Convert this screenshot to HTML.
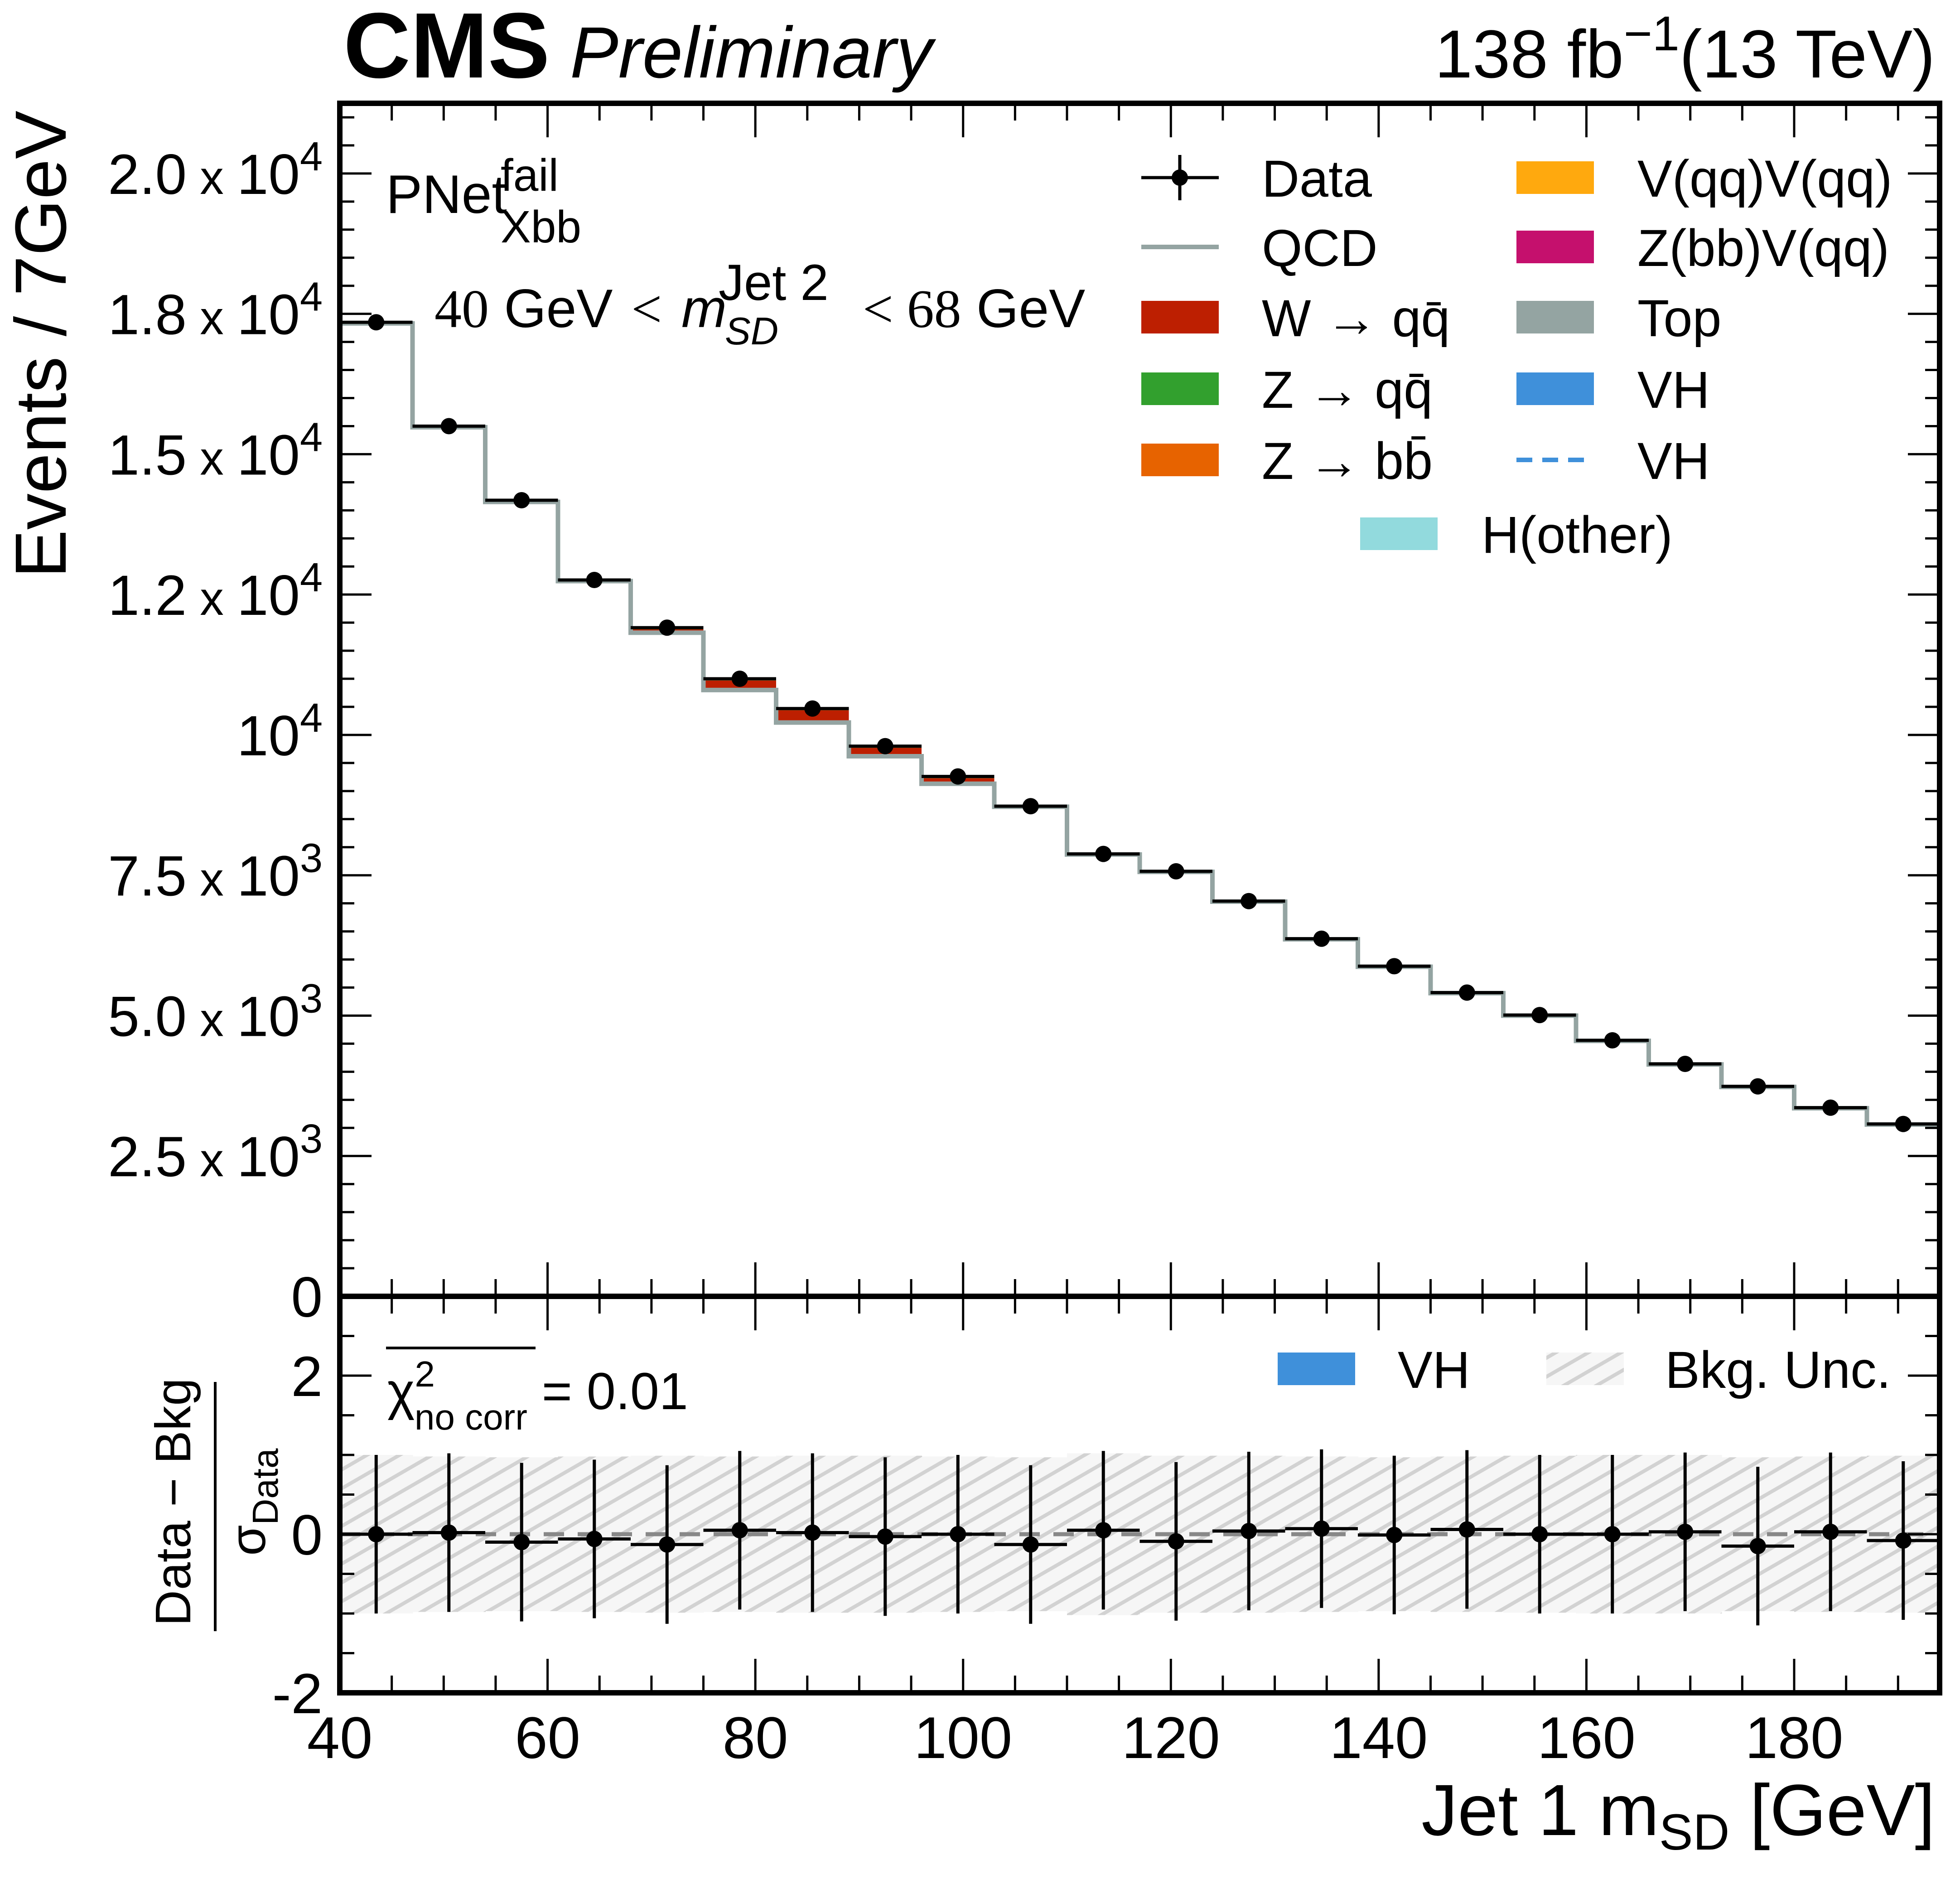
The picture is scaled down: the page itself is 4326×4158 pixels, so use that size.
<!DOCTYPE html>
<html><head><meta charset="utf-8"><style>
html,body{margin:0;padding:0;background:#fff}
svg{display:block}
text{font-family:"Liberation Sans",sans-serif;fill:#000}
</style></head><body>
<svg id="chart" xmlns="http://www.w3.org/2000/svg" width="4326" height="4158" viewBox="0 0 4326 4158">
<defs>
<pattern id="hatch" patternUnits="userSpaceOnUse" width="36" height="36" patternTransform="rotate(-30)">
<rect width="36" height="36" fill="#f6f6f6"/><line x1="0" y1="18" x2="36" y2="18" stroke="#d2d2d2" stroke-width="8"/>
</pattern>
<clipPath id="mainclip"><rect x="750" y="228" width="3531" height="2633"/></clipPath>
<clipPath id="ratioclip"><rect x="750" y="2861" width="3531" height="875"/></clipPath>
</defs>
<g id="main" clip-path="url(#mainclip)"></g>
<g id="ratio" clip-path="url(#ratioclip)"></g>
<g id="axes"></g>
<text x="758" y="171" font-size="205" font-weight="bold">CMS</text>
<text x="1258" y="171" font-size="160" font-style="italic">Preliminary</text>
<text x="4271" y="171" font-size="150" text-anchor="end"><tspan>138 fb</tspan><tspan dy="-60" font-size="108">−1</tspan><tspan dy="60">(13 TeV)</tspan></text>
<text transform="translate(145,760) rotate(-90)" font-size="160" text-anchor="middle">Events / 7GeV</text>
<text x="4271" y="4050" font-size="160" text-anchor="end"><tspan>Jet 1 m</tspan><tspan dy="32" font-size="112">SD</tspan><tspan dy="-32"> [GeV]</tspan></text>
<text x="852" y="470" font-size="120"><tspan>PNet</tspan><tspan x="1105" y="421" font-size="100">fail</tspan><tspan x="1105" y="535" font-size="100">Xbb</tspan></text>
<g font-size="120">
<text x="959" y="722"><tspan font-family="Liberation Serif">40</tspan><tspan> GeV </tspan><tspan font-family="Liberation Serif" font-style="italic">&lt;</tspan></text>
<text x="1504" y="722" font-family="Liberation Serif" font-style="italic">m</text>
<text x="1600" y="760" font-size="85" font-family="Liberation Serif" font-style="italic">SD</text>
<text x="1586" y="662" font-size="112">Jet 2</text>
<text x="1904" y="722"><tspan font-family="Liberation Serif">&lt; 68</tspan><tspan> GeV</tspan></text>
</g>
<text transform="translate(420,3315) rotate(-90)" font-size="110" text-anchor="middle">Data − Bkg</text>
<line x1="475" y1="3050" x2="475" y2="3600" stroke="#000" stroke-width="6"/>
<text transform="translate(585,3315) rotate(-90)" font-size="110" text-anchor="middle"><tspan>σ</tspan><tspan dy="28" font-size="80">Data</tspan></text>
<line x1="852" y1="2975" x2="1182" y2="2975" stroke="#000" stroke-width="6"/>
<text x="855" y="3110" font-size="115"><tspan>χ</tspan><tspan dy="-50" font-size="80">2</tspan><tspan dx="-45" dy="95" font-size="80">no corr</tspan><tspan dy="-45"> = 0.01</tspan></text>
<g id="legend"></g>
</svg>
<script>
const edges0 = 40, binW = 7;
const categories = ["40-47","47-54","54-61","61-68","68-75","75-82","82-89","89-96","96-103","103-110","110-117","117-124","124-131","131-138","138-145","145-152","152-159","159-166","166-173","173-180","180-187","187-194"];
const dataVals = [17350,15500,14180,12760,11910,11000,10470,9800,9260,8730,7880,7570,7040,6370,5880,5410,5010,4560,4140,3740,3360,3070];
const qcdVals  = [17330,15480,14150,12740,11820,10800,10220,9620,9130,8720,7870,7560,7030,6360,5870,5400,5000,4550,4130,3730,3350,3060];
const wVals    = [10,10,20,20,60,170,220,150,100,5,5,5,5,5,5,5,5,5,5,5,5,5];
const zVals    = [5,5,5,5,20,40,50,40,30,5,2,2,2,2,2,2,2,2,2,2,2,2];
const pullVals = [0,0.02,-0.1,-0.06,-0.13,0.05,0.02,-0.03,0,-0.13,0.05,-0.09,0.04,0.07,-0.01,0.06,0,0,0.03,-0.15,0.03,-0.08];
const bandVals = [1.0,0.98,0.97,0.98,0.99,0.98,0.99,0.99,0.98,0.97,1.02,0.99,0.99,0.98,0.97,0.98,0.99,1.0,1.0,0.97,0.98,0.99];
const mainTickLabels = [[2500,"2.5","3"],[5000,"5.0","3"],[7500,"7.5","3"],[10000,"","4"],[12500,"1.2","4"],[15000,"1.5","4"],[17500,"1.8","4"],[20000,"2.0","4"]];
const xTickLabels = [40,60,80,100,120,140,160,180];
const ratioTickLabels = [-2,0,2];

const NS="http://www.w3.org/2000/svg";
const L=750,R=4281,T=228,D=2861,B=3736;
const X=v=>L+(v-40)*(R-L)/154;
const Y=v=>D-v*(D-T)/21250;
const YR=v=>D+(3-v)*(B-D)/5;
function mk(tag,attrs,parent){const e=document.createElementNS(NS,tag);for(const k in attrs)e.setAttribute(k,attrs[k]);document.getElementById(parent).appendChild(e);return e;}
const n=dataVals.length;
for(let i=0;i<n;i++){
  const x0=X(edges0+i*binW),x1=X(edges0+(i+1)*binW);
  let b=qcdVals[i];
  const w=mk('rect',{x:x0,y:Y(b+wVals[i]),width:x1-x0,height:Y(b)-Y(b+wVals[i]),fill:'#bd1f01'},'main');
  
  
  b+=wVals[i];
  const z=mk('rect',{x:x0,y:Y(b+zVals[i]),width:x1-x0,height:Y(b)-Y(b+zVals[i]),fill:'#32a02e'},'main');
  
  
}
let d='';
for(let i=0;i<n;i++){const x0=X(edges0+i*binW),x1=X(edges0+(i+1)*binW),y=Y(qcdVals[i]);d+=(i?'L':'M')+x0+','+y+'L'+x1+','+y;}
const q=mk('path',{d:d,fill:'none',stroke:'#94a4a2','stroke-width':10},'main');


for(let i=0;i<n;i++){
  const x0=X(edges0+i*binW),x1=X(edges0+(i+1)*binW),xc=(x0+x1)/2,y=Y(dataVals[i]);
  const e=Math.sqrt(dataVals[i])*(D-T)/21250;
  const g=mk('g',{},'main');
  
  
  g.innerHTML='<line x1="'+x0+'" x2="'+x1+'" y1="'+y+'" y2="'+y+'" stroke="#000" stroke-width="7"/><line x1="'+xc+'" x2="'+xc+'" y1="'+(y-e)+'" y2="'+(y+e)+'" stroke="#000" stroke-width="7"/><circle cx="'+xc+'" cy="'+y+'" r="18"/>';
}
for(let i=0;i<n;i++){
  const x0=X(edges0+i*binW),x1=X(edges0+(i+1)*binW);
  const r=mk('rect',{x:x0,y:YR(bandVals[i]),width:x1-x0+1,height:YR(-bandVals[i])-YR(bandVals[i]),fill:'url(#hatch)'},'ratio');
  
  
}
const dl=mk('line',{x1:L,x2:R,y1:YR(0),y2:YR(0),stroke:'#888','stroke-width':9,'stroke-dasharray':'45,30'},'ratio');


for(let i=0;i<n;i++){
  const x0=X(edges0+i*binW),x1=X(edges0+(i+1)*binW),xc=(x0+x1)/2,y=YR(pullVals[i]);
  const g=mk('g',{},'ratio');
  
  
  g.innerHTML='<line x1="'+x0+'" x2="'+x1+'" y1="'+y+'" y2="'+y+'" stroke="#000" stroke-width="7"/><line x1="'+xc+'" x2="'+xc+'" y1="'+YR(pullVals[i]+1)+'" y2="'+YR(pullVals[i]-1)+'" stroke="#000" stroke-width="7"/><circle cx="'+xc+'" cy="'+y+'" r="18"/>';
}
for(const [y0,y1,nm] of [[T,D,'main-frame'],[D,B,'ratio-frame']]){
  const f=mk('rect',{x:L,y:y0,width:R-L,height:y1-y0,fill:'none',stroke:'#000','stroke-width':12},'axes');
  
  
}
for(let v=40;v<=194;v+=5){
  const maj=(v%20===0),len=maj?75:38,x=X(v);
  for(const [yy,dir] of [[T,1],[D,-1],[D,1],[B,-1]]){
    const t=mk('line',{x1:x,x2:x,y1:yy,y2:yy+dir*len,stroke:'#000','stroke-width':5},'axes');
    
    
  }
}
for(const v of xTickLabels){
  const t=mk('text',{x:X(v),y:3880,'font-size':130,'text-anchor':'middle'},'axes');t.textContent=v;
  
  
}
for(let v=0;v<=21000;v+=500){
  const maj=(v%2500===0),len=maj?70:32,y=Y(v);
  for(const [xx,dir] of [[L,1],[R,-1]]){
    const t=mk('line',{x1:xx,x2:xx+dir*len,y1:y,y2:y,stroke:'#000','stroke-width':5},'axes');
    
    
  }
}
for(const [v,m,e] of mainTickLabels){
  const t=mk('text',{x:712,y:Y(v)+45,'font-size':125,'text-anchor':'end'},'axes');
  t.innerHTML=(m?m+'<tspan font-size="105"> x </tspan>':'')+'10<tspan dy="-52" font-size="90">'+e+'</tspan>';
  
  
}
const z0=mk('text',{x:712,y:D+45,'font-size':125,'text-anchor':'end'},'axes');z0.textContent='0';


for(let v=-2;v<=3;v+=0.5){
  const maj=(Math.abs(v%2)<1e-9),len=maj?70:32,y=YR(v);
  for(const [xx,dir] of [[L,1],[R,-1]]){
    const t=mk('line',{x1:xx,x2:xx+dir*len,y1:y,y2:y,stroke:'#000','stroke-width':5},'axes');
    
    
  }
}
for(const v of ratioTickLabels){
  const t=mk('text',{x:712,y:YR(v)+45,'font-size':125,'text-anchor':'end'},'axes');t.textContent=v;
  
  
}
const legItems=[
 ['data','',392,'Data'],['line','#94a4a2',545,'QCD'],['box','#bd1f01',700,'W → qq̄'],['box','#32a02e',858,'Z → qq̄'],['box','#e76300',1015,'Z → bb̄'],
 ['box','#ffa90e',392,'V(qq)V(qq)'],['box','#c5106d',545,'Z(bb)V(qq)'],['box','#94a4a2',700,'Top'],['box','#3f90da',858,'VH'],['dash','#3f90da',1015,'VH'],
 ['box','#92dadd',1178,'H(other)']];
legItems.forEach((it,i)=>{
  const mx=i<5?2519:(i<10?3347:3002), tx=i<5?2785:(i<10?3614:3270), y=it[2];
  const g=mk('g',{},'legend');
  
  
  if(it[0]==='data'){
    g.innerHTML='<line x1="'+mx+'" x2="'+(mx+171)+'" y1="'+y+'" y2="'+y+'" stroke="#000" stroke-width="7"/><line x1="'+(mx+85)+'" x2="'+(mx+85)+'" y1="'+(y-50)+'" y2="'+(y+50)+'" stroke="#000" stroke-width="7"/><circle cx="'+(mx+85)+'" cy="'+y+'" r="18"/>';
  } else if(it[0]==='line'){
    g.innerHTML='<line x1="'+mx+'" x2="'+(mx+171)+'" y1="'+y+'" y2="'+y+'" stroke="'+it[1]+'" stroke-width="10"/>';
  } else if(it[0]==='dash'){
    g.innerHTML='<line x1="'+mx+'" x2="'+(mx+171)+'" y1="'+y+'" y2="'+y+'" stroke="'+it[1]+'" stroke-width="10" stroke-dasharray="35,22"/>';
  } else {
    g.innerHTML='<rect x="'+mx+'" y="'+(y-36)+'" width="171" height="72" fill="'+it[1]+'"/>';
  }
  g.innerHTML+='<text x="'+tx+'" y="'+(y+42)+'" font-size="115">'+it[3]+'</text>';
});
const rl=mk('g',{},'legend');


rl.innerHTML='<rect x="2820" y="2985" width="171" height="72" fill="#3f90da"/><text x="3085" y="3063" font-size="115">VH</text><rect x="3413" y="2985" width="171" height="72" fill="url(#hatch)"/><text x="3675" y="3063" font-size="115">Bkg. Unc.</text>';
</script>
</body></html>
